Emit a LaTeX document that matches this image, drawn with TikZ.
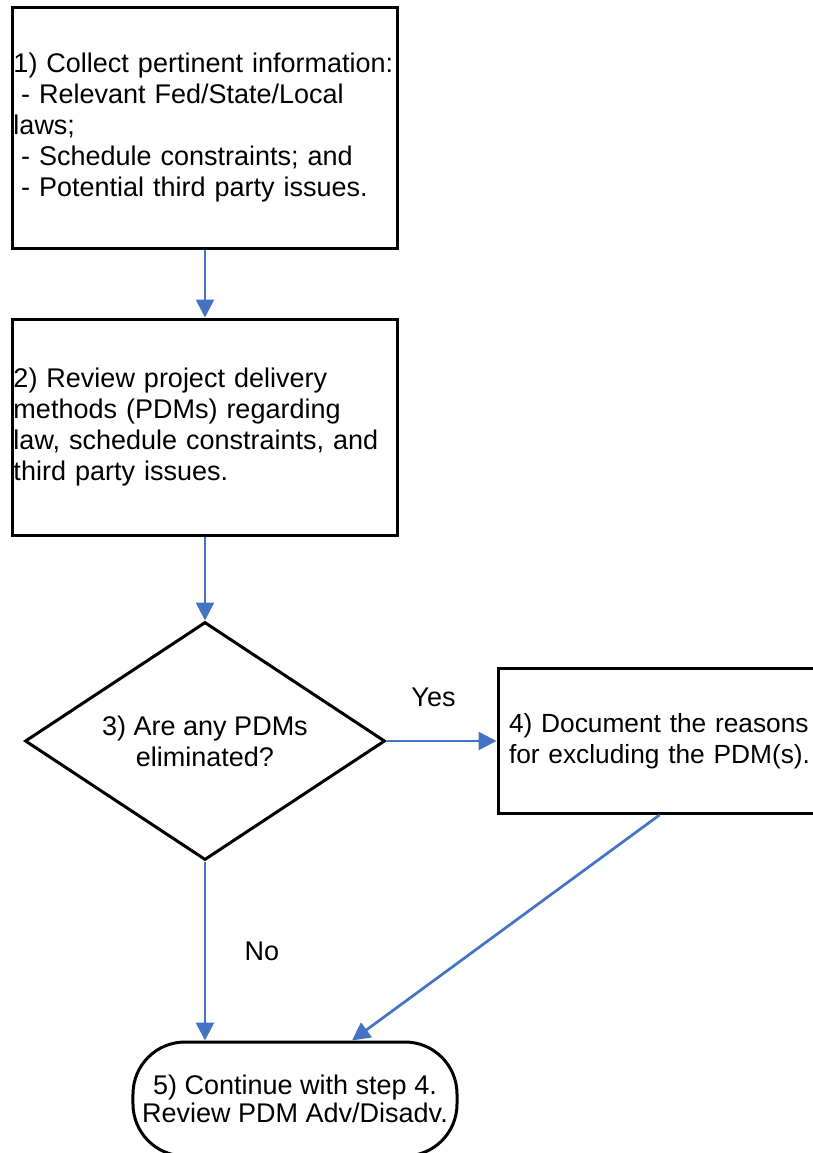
\documentclass[tikz,border=0pt]{standalone}
\usepackage{fontspec}
\setmainfont{Liberation Sans}
\usetikzlibrary{positioning, shapes.geometric, arrows.meta}
\definecolor{flowblue}{HTML}{4472C4}

\begin{document}
\begin{tikzpicture}
		[
		font=\fontsize{27}{31}\selectfont,
		>={Triangle[width=18pt,length=18pt]},
		block/.style ={rectangle, draw=black, line width=3pt, text width=383pt, inner xsep=1pt, align=left, minimum height=240pt},
		decision/.style ={diamond, draw=black, line width=3pt, aspect=1.5, inner sep=0pt, minimum width=360pt, minimum height=238pt, align=center},
		result/.style ={rectangle, draw=black, line width=3pt, text width=310pt, inner xsep=11pt, align=left, minimum height=145pt, font=\fontsize{26.3}{31}\selectfont},
		terminal/.style ={rectangle, rounded corners=52pt, draw=black, line width=3pt, minimum width=324pt, minimum height=114pt, align=center, font=\fontsize{27}{28}\selectfont}
		]
		\useasboundingbox (-205pt,128pt) rectangle (608pt,-1025pt);
		\node[] (a) [block] {1) Collect pertinent information:\\\hspace*{.28em}- Relevant Fed/State/Local\\laws;\\\hspace*{.28em}- Schedule constraints; and\\\hspace*{.28em}- Potential third party issues.};
		\node[below=68pt of a] (b) [block, minimum height=216pt] {2) Review project delivery\\methods (PDMs) regarding\\law, schedule constraints, and\\third party issues.};
		\node[below=84pt of b] (c) [decision] {3) Are any PDMs\\eliminated?};
		\node[right=110pt of c] (d) [result] {4) Document the reasons\\for excluding the PDM(s).};
		\node[below=179pt of c, xshift=90pt] (e) [terminal] {5) Continue with step 4.\\Review PDM Adv/Disadv.};
		\draw[->, line width=2.7pt, flowblue] (a.south) -- (b.north);
		\draw[->, line width=2.7pt, flowblue] (b.south) -- (c.north);
		\draw[->, line width=2.7pt, flowblue] (c.east) -- node [midway, yshift=44pt, xshift=-8pt, black] {Yes} (d.west);
		\draw[->, line width=2.7pt, flowblue] (c.south) -- node [midway, xshift=57pt, black] {No} (c.south |- e.north);
		\draw[->, line width=2.7pt, flowblue] ([xshift=163pt]d.south west) -- ([xshift=57pt]e.north);
	\end{tikzpicture}
\end{document}
